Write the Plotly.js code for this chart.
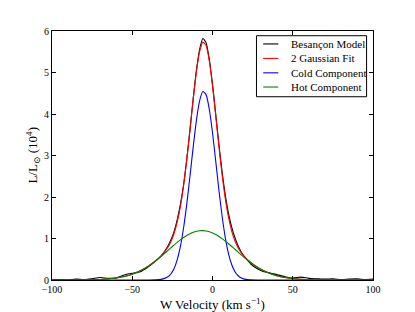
<!DOCTYPE html>
<html>
<head>
<meta charset="utf-8">
<script src="https://cdn.plot.ly/plotly-3.0.1.min.js"></script>
<style>html,body{margin:0;padding:0;background:#fff;}#chart{width:415px;height:312px;}</style>
</head>
<body>
<div id="chart"></div>
<script>
// W velocity grid for the fitted curves (km/s)
const fitVelocity = [-100,-90,-80,-70,-60,-55,-50,-45,-40,-36,-32,-28,-26,-24,-22,-20,-18,-16,-14,-12,-10,-8,-6,-4,-2,0,2,4,6,8,10,12,14,16,18,20,24,28,32,36,40,45,50,55,60,70,80,90,100];
// Cold component (10^4 L/Lsun)
const coldComponent = [0,0,0,0,0,0,0,0,0.0003,0.0022,0.0142,0.071,0.144,0.273,0.486,0.808,1.260,1.839,2.513,3.215,3.853,4.322,4.541,4.467,4.114,3.549,2.866,2.167,1.535,1.017,0.632,0.367,0.200,0.102,0.0486,0.0217,0.0036,0.0004,0,0,0,0,0,0,0,0,0,0,0];
// Hot component
const hotComponent = [0.0001,0.0004,0.0026,0.0123,0.0464,0.0827,0.139,0.2216,0.3334,0.4436,0.5693,0.7046,0.7733,0.841,0.9063,0.9678,1.0244,1.0742,1.1165,1.1499,1.1736,1.187,1.1897,1.1816,1.163,1.1343,1.0963,1.0502,0.9967,0.9376,0.8739,0.8073,0.739,0.6703,0.6025,0.5367,0.4145,0.3087,0.2217,0.1535,0.1026,0.0588,0.0319,0.0163,0.0079,0.0016,0.0002,0,0];
// 2 Gaussian fit (cold + hot)
const gaussianFit = [0.0001,0.0004,0.0026,0.0123,0.0464,0.0827,0.139,0.2216,0.3337,0.4458,0.5835,0.7756,0.9173,1.114,1.392,1.776,2.284,2.913,3.630,4.365,5.027,5.509,5.731,5.649,5.277,4.683,3.962,3.217,2.532,1.955,1.506,1.174,0.939,0.772,0.651,0.558,0.418,0.309,0.222,0.154,0.103,0.059,0.032,0.016,0.008,0.002,0.0002,0,0];
// Besancon model
const modelVelocity = [-100,-95,-90,-85,-80,-75,-70,-65,-60,-55,-52,-50,-45,-40,-36,-32,-28,-26,-24,-22,-20,-18,-16,-14,-12,-10,-8,-6,-4,-2,0,2,4,6,8,10,12,14,16,18,20,24,28,32,36,40,45,50,55,60,65,70,75,80,85,90,95,100];
const besanconModel = [0.0,0.01,0.0,0.02,0.01,0.03,0.06,0.04,0.05,0.12,0.15,0.16,0.20,0.32,0.44,0.58,0.80,0.96,1.16,1.45,1.82,2.30,2.92,3.63,4.38,5.06,5.56,5.82,5.72,5.32,4.72,4.00,3.27,2.60,2.04,1.60,1.27,1.02,0.82,0.67,0.56,0.38,0.27,0.20,0.17,0.13,0.08,0.05,0.07,0.04,0.03,0.02,0.03,0.01,0.02,0.03,0.01,0.02];

const seriesNames = ['Besançon Model', '2 Gaussian Fit', 'Cold Component', 'Hot Component'];
const seriesColors = ['#000000', '#ff0000', '#0000ff', '#008000'];
const xTicks = [-100,-50,0,50,100];
const xTickLabels = ['\u2212100','\u221250','0','50','100'];
const yTicks = [0,1,2,3,4,5,6];

const serif = 'Liberation Serif, DejaVu Serif, serif';
const lw = 1.1;
const xs = [modelVelocity, fitVelocity, fitVelocity, fitVelocity];
const ys = [besanconModel, gaussianFit, coldComponent, hotComponent];
const traces = ys.map((y, i) => ({
  x: xs[i], y: y, name: seriesNames[i], mode: 'lines', showlegend: false,
  line: {color: seriesColors[i], width: lw, shape: 'spline', smoothing: 0.6}
}));

// compact legend (matplotlib style) built in paper coordinates
const legBox = {x0: 0.637, x1: 0.980, y0: 0.736, y1: 0.981};
const rowY = [0.948, 0.890, 0.832, 0.775];
const shapes = [{type: 'rect', xref: 'paper', yref: 'paper', x0: legBox.x0, x1: legBox.x1, y0: legBox.y0, y1: legBox.y1,
  line: {color: '#000', width: 1}, fillcolor: '#fff', layer: 'above'}];
const annotations = [];
seriesNames.forEach((n, i) => {
  shapes.push({type: 'line', xref: 'paper', yref: 'paper', x0: 0.658, x1: 0.705, y0: rowY[i], y1: rowY[i],
    line: {color: seriesColors[i], width: lw}, layer: 'above'});
  annotations.push({xref: 'paper', yref: 'paper', x: 0.739, y: rowY[i], xanchor: 'left', yanchor: 'middle',
    text: n, showarrow: false, font: {family: serif, size: 11, color: '#000'}});
});
// y-axis title placed as a rotated annotation
annotations.push({xref: 'paper', yref: 'paper', x: -0.062, y: 0.5, xanchor: 'center', yanchor: 'middle', textangle: -90,
  text: 'L/L<sub>\u2299</sub> (10<sup>4</sup>)', showarrow: false, font: {family: serif, size: 13, color: '#000'}});

const axisCommon = {
  showgrid: false, zeroline: false, showline: true, linecolor: '#000', linewidth: 1,
  mirror: 'allticks', ticks: 'inside', ticklen: 4, tickcolor: '#000', tickwidth: 1,
  tickfont: {family: serif, size: 10, color: '#000'}
};
const layout = {
  width: 415, height: 312,
  margin: {l: 52, r: 42, t: 31, b: 32},
  paper_bgcolor: '#fff', plot_bgcolor: '#fff',
  font: {family: serif, color: '#000'},
  showlegend: false,
  shapes: shapes,
  annotations: annotations,
  xaxis: Object.assign({}, axisCommon, {range: [-100, 100], tickvals: xTicks, ticktext: xTickLabels,
    title: {text: 'W Velocity (km s<sup>\u22121</sup>)', font: {family: serif, size: 13, color: '#000'}}}),
  yaxis: Object.assign({}, axisCommon, {range: [0, 6], tickvals: yTicks})
};
Plotly.newPlot('chart', traces, layout, {staticPlot: true, displayModeBar: false});
</script>
</body>
</html>
